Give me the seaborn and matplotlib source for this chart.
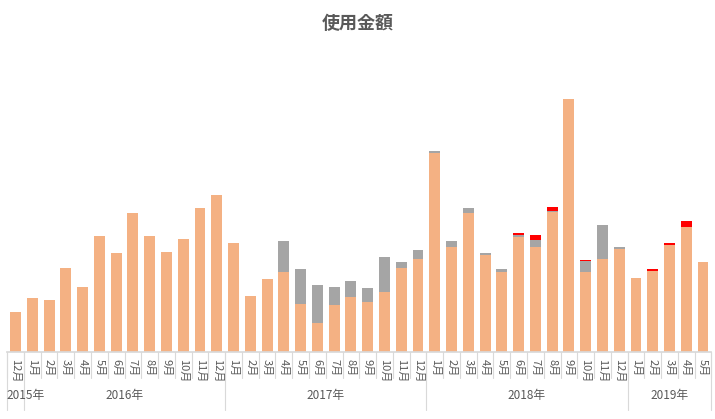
import numpy as np
import pandas as pd
import matplotlib
matplotlib.use("Agg")
import matplotlib.pyplot as plt
import seaborn as sns

months = ["12月"] + [f"{m}月" for m in range(1, 13)] * 3 + [f"{m}月" for m in range(1, 6)]
years = ["2015年", "2016年", "2017年", "2018年", "2019年"]
year_counts = [1, 12, 12, 12, 5]

main = [40, 54, 52, 84, 65, 116, 99, 139, 116, 100, 113, 144, 157,
        109, 56, 73, 80, 48, 29, 47, 55, 50, 60, 84, 93,
        199, 105, 139, 97, 80, 115, 105, 140, 253, 80, 93, 103,
        74, 81, 107, 125, 90]
gray = [0] * 16 + [31, 35, 38, 18, 16, 14, 35, 6, 9,
        2, 6, 5, 2, 3, 2, 7, 1, 0, 11, 34, 2,
        0, 0, 0, 0, 0]
red = [0] * 30 + [2, 5, 4, 0, 1, 0, 0, 0, 2, 2, 6, 0]

sns.set_theme(style="white")
plt.rcParams['font.family'] = ['Noto Sans CJK JP', 'DejaVu Sans']

fig = plt.figure(figsize=(7.15, 4.19), dpi=100)
ax = fig.add_axes([0.01, 0.16, 0.985, 0.697])

df = pd.DataFrame({"idx": range(len(main)), "main": main})
sns.barplot(data=df, x="idx", y="main", color="#F4B183", saturation=1, width=0.65,
            linewidth=0, ax=ax)
x = np.arange(len(main))
ax.bar(x, gray, bottom=main, width=0.65, color="#A5A5A5", linewidth=0)
ax.bar(x, red, bottom=np.array(main) + np.array(gray), width=0.65, color="#FF0000",
       linewidth=0)

ax.set_xlim(-0.5, len(main) - 0.5)
ax.set_ylim(0, 292)
ax.set_xticks([])
ax.set_yticks([])
ax.set_xlabel("")
ax.set_ylabel("")
for s in ["top", "right", "left"]:
    ax.spines[s].set_visible(False)
ax.spines["bottom"].set_color("#D9D9D9")

tr = ax.get_xaxis_transform()
for i, m in enumerate(months):
    ax.text(i, -0.025, m, rotation=270, ha="center", va="top", fontsize=8,
            color="#595959", transform=tr)
for i in range(len(months) + 1):
    ax.plot([i - 0.5, i - 0.5], [0, -0.09], color="#D9D9D9", lw=0.8,
            transform=tr, clip_on=False)

start = 0
for y, c in zip(years, year_counts):
    ax.plot([start - 0.5, start - 0.5], [0, -0.2], color="#D9D9D9", lw=0.8,
            transform=tr, clip_on=False)
    if c == 1:
        ax.text(start - 0.55, -0.15, y, ha="left", va="center", fontsize=8.5,
                color="#595959", transform=tr)
    else:
        ax.text(start + (c - 1) / 2, -0.15, y, ha="center", va="center",
                fontsize=8.5, color="#595959", transform=tr)
    start += c
ax.plot([start - 0.5, start - 0.5], [0, -0.2], color="#D9D9D9", lw=0.8,
        transform=tr, clip_on=False)

fig.text(0.5, 0.945, "使用金額", ha="center", va="center", fontsize=13,
         fontweight="bold", color="#595959")

fig.savefig("out.png", dpi=100)
